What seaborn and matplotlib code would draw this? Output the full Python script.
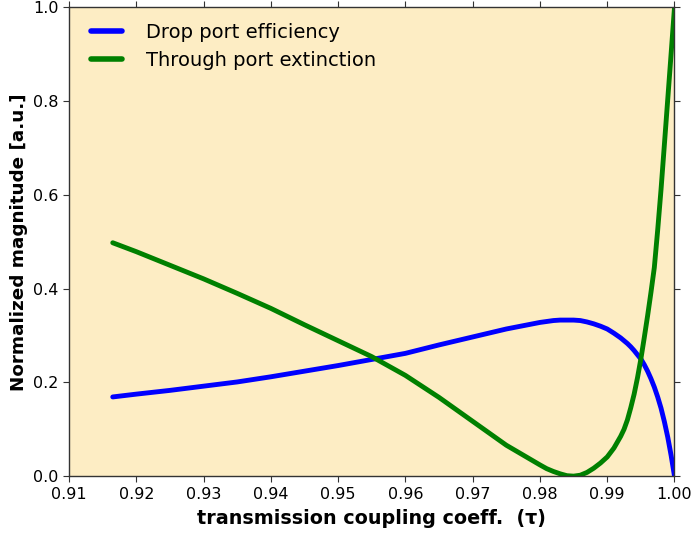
import matplotlib
matplotlib.use("Agg")
import matplotlib.pyplot as plt
import seaborn as sns
import pandas as pd

tau = [0.9165, 0.92, 0.925, 0.93, 0.935, 0.94, 0.945, 0.95, 0.955, 0.96,
       0.965, 0.97, 0.975, 0.98, 0.981, 0.982, 0.983, 0.984, 0.985, 0.986,
       0.987, 0.988, 0.989, 0.99, 0.991, 0.992, 0.9925, 0.993, 0.9935, 0.994,
       0.9945, 0.995, 0.9955, 0.996, 0.9965, 0.997, 0.9975, 0.998, 0.9985, 0.999,
       0.9995, 1.0]

drop_eff = [0.169, 0.175, 0.183, 0.192, 0.201, 0.212, 0.224, 0.236, 0.249, 0.262,
            0.280, 0.297, 0.314, 0.328, 0.330, 0.332, 0.333, 0.333, 0.333, 0.332,
            0.329, 0.325, 0.320, 0.314, 0.305, 0.295, 0.289, 0.283, 0.276, 0.268,
            0.259, 0.250, 0.238, 0.224, 0.208, 0.190, 0.169, 0.145, 0.116, 0.083,
            0.044, 0.0]

through_ext = [0.498, 0.479, 0.450, 0.421, 0.390, 0.358, 0.323, 0.289, 0.255, 0.215,
               0.168, 0.117, 0.066, 0.024, 0.016, 0.010, 0.005, 0.001, 0.0, 0.002,
               0.008, 0.017, 0.028, 0.041, 0.060, 0.085, 0.100, 0.120, 0.146, 0.175,
               0.210, 0.250, 0.295, 0.342, 0.392, 0.445, 0.525, 0.612, 0.708, 0.805,
               0.902, 1.0]

series_names = ["Drop port efficiency", "Through port extinction"]
x_ticks = [0.91, 0.92, 0.93, 0.94, 0.95, 0.96, 0.97, 0.98, 0.99, 1.00]
y_ticks = [0.0, 0.2, 0.4, 0.6, 0.8, 1.0]

df = pd.DataFrame({
    "tau": tau * 2,
    "value": drop_eff + through_ext,
    "series": [series_names[0]] * len(tau) + [series_names[1]] * len(tau),
})

sns.set_style("ticks")
plt.rcParams["font.family"] = ["DejaVu Sans"]
plt.rcParams["text.color"] = "black"
plt.rcParams["axes.labelcolor"] = "black"

fig = plt.figure(figsize=(6.95, 5.35), dpi=100)
ax = fig.add_axes([0.0993, 0.110, 0.8712, 0.876])
ax.set_facecolor("#FDEDC4")

sns.lineplot(data=df, x="tau", y="value", hue="series",
             palette={series_names[0]: "#0000FF", series_names[1]: "#008000"},
             linewidth=3.5, ax=ax, sort=False)

ax.set_xlim(0.91, 1.0)
ax.set_ylim(0.0, 1.0)
ax.set_xticks(x_ticks)
ax.set_xticklabels([f"{v:.2f}" for v in x_ticks])
ax.set_yticks(y_ticks)
ax.set_yticklabels([f"{v:.1f}" for v in y_ticks])
ax.tick_params(axis="both", which="both", direction="out", length=4, width=0.8,
               colors="#333333", labelcolor="black", labelsize=11.5,
               top=True, right=True, labeltop=False, labelright=False)
for s in ax.spines.values():
    s.set_visible(True)
    s.set_color("#333333")
    s.set_linewidth(1.0)

ax.set_xlabel("transmission coupling coeff.  (τ)", fontsize=13.8, fontweight="bold",
              color="black", labelpad=5)
ax.set_ylabel("Normalized magnitude [a.u.]", fontsize=13.2, fontweight="bold",
              color="black")

leg = ax.legend(loc="upper left", bbox_to_anchor=(0.011, 1.0), frameon=False,
                fontsize=14, handlelength=1.6, borderaxespad=0.2,
                labelspacing=0.45, handletextpad=1.2, borderpad=0.6)
for line in leg.get_lines():
    line.set_linewidth(4)
for t in leg.get_texts():
    t.set_color("black")

fig.savefig("out.png", dpi=100)
